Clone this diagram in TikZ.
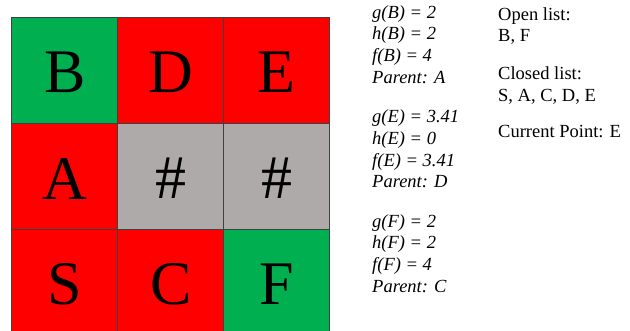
\documentclass[tikz,border=0pt]{standalone}
\usepackage{fontspec}
\setmainfont{Liberation Serif}
\definecolor{cgreen}{RGB}{0,176,80}
\definecolor{cred}{RGB}{255,0,0}
\definecolor{cgray}{RGB}{174,170,170}
\tikzset{
  cell/.style={draw=black!75, line width=0.6pt, minimum size=106pt, inner sep=0pt, outer sep=0pt},
  letter/.style={inner sep=0pt, font=\fontsize{62}{62}\selectfont},
  info/.style={anchor=base west, inner sep=0pt, font=\fontsize{18.5}{21}\selectfont\itshape},
  listtxt/.style={anchor=base west, inner sep=0pt, font=\fontsize{18.5}{21}\selectfont}
}
\begin{document}
\begin{tikzpicture}[x=1pt,y=-1pt]
\clip (0,0) rectangle (630,331);
\fill[white] (0,0) rectangle (630,331);
% cells
\node[cell, fill=cgreen] (cB) at (64.7,70.3) {};
\node[cell, fill=cred]   (cD) at (170.7,70.3) {};
\node[cell, fill=cred]   (cE) at (276.7,70.3) {};
\node[cell, fill=cred]   (cA) at (64.7,176.3) {};
\node[cell, fill=cgray]  (cH1) at (170.7,176.3) {};
\node[cell, fill=cgray]  (cH2) at (276.7,176.3) {};
\node[cell, fill=cred]   (cS) at (64.7,282.3) {};
\node[cell, fill=cred]   (cC) at (170.7,282.3) {};
\node[cell, fill=cgreen] (cF) at (276.7,282.3) {};
% letters
\node[letter] (lB) at ([yshift=-2.3pt]cB.center) {B};
\node[letter] (lD) at ([yshift=-2.3pt]cD.center) {D};
\node[letter] (lE) at ([yshift=-2.3pt]cE.center) {E};
\node[letter] (lA) at ([yshift=-2.3pt]cA.center) {A};
\node[letter] (lH1) at ([yshift=-2.3pt]cH1.center) {\#};
\node[letter] (lH2) at ([yshift=-2.3pt]cH2.center) {\#};
\node[letter] (lS) at ([yshift=-2.3pt]cS.center) {S};
\node[letter] (lC) at ([yshift=-2.3pt]cC.center) {C};
\node[letter] (lF) at ([yshift=-2.3pt]cF.center) {F};
% info column
\node[info] (gB) at (372,18.3) {g(B) = 2};
\node[info] (hB) at (372,40) {h(B) = 2};
\node[info] (fB) at (372,61.7) {f(B) = 4};
\node[info] (pB) at (372,83.4) {Parent: A};
\node[info] (gE) at (372,122.8) {g(E) = 3.41};
\node[info] (hE) at (372,144.5) {h(E) = 0};
\node[info] (fE) at (372,166.2) {f(E) = 3.41};
\node[info] (pE) at (372,187.9) {Parent: D};
\node[info] (gF) at (372,227.3) {g(F) = 2};
\node[info] (hF) at (372,249) {h(F) = 2};
\node[info] (fF) at (372,270.7) {f(F) = 4};
\node[info] (pF) at (372,292.4) {Parent: C};
% lists
\node[listtxt] (ol) at (498,20.7) {Open list:};
\node[listtxt] (olv) at (498,41.7) {B, F};
\node[listtxt] (cl) at (498,80) {Closed list:};
\node[listtxt] (clv) at (498,101.5) {S, A, C, D, E};
\node[listtxt] (cp) at (498,138) {Current Point: E};
\end{tikzpicture}
\end{document}
